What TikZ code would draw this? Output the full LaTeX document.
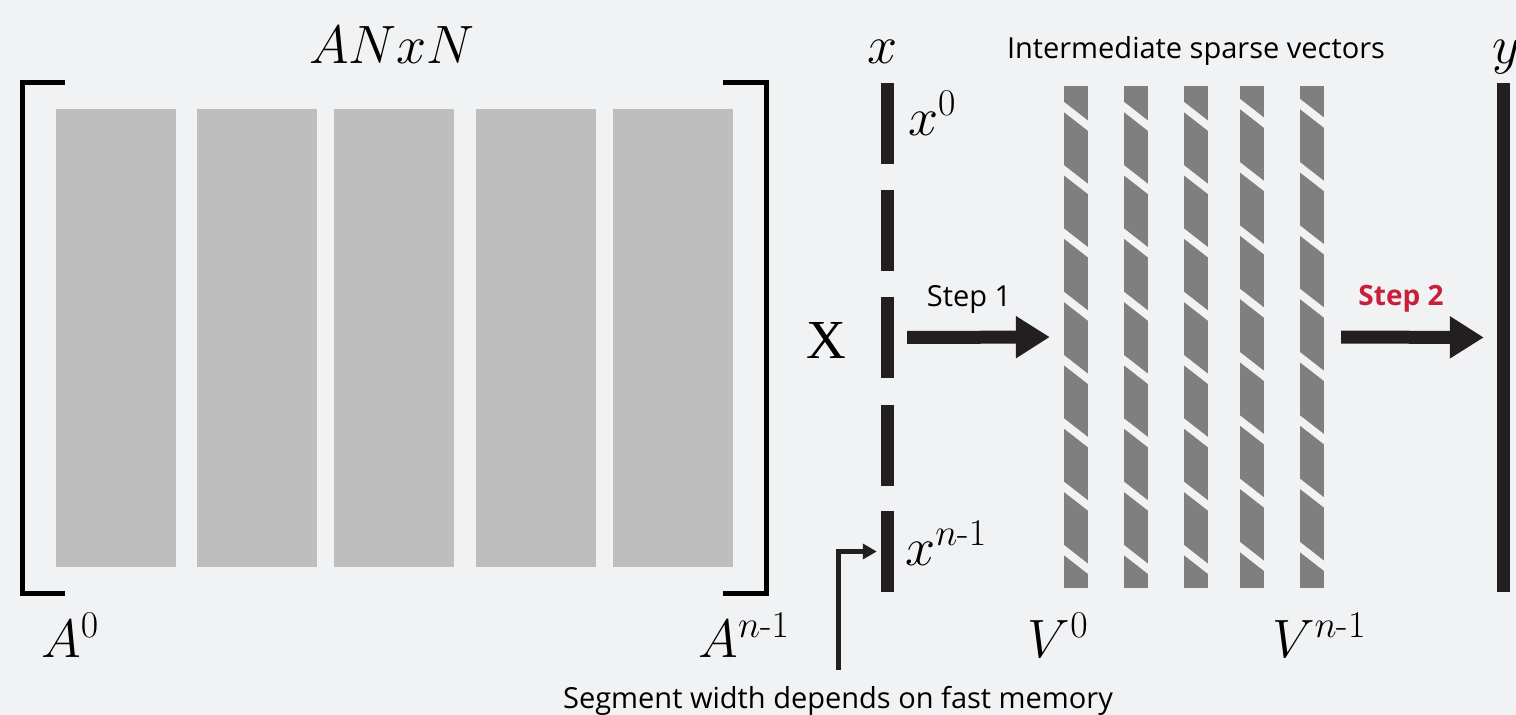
\RequirePackage{fix-cm}
\documentclass[tikz,border=0pt]{standalone}
\usepackage{amsmath}
\usepackage{fontspec}
\setsansfont{Open Sans}
\newfontfamily\uprightserif{Liberation Serif}
\usetikzlibrary{arrows.meta}
\definecolor{bgc}{HTML}{F1F2F4}
\definecolor{blockgray}{HTML}{BEBEBE}
\definecolor{hatchgray}{HTML}{7F7F7F}
\definecolor{ink}{HTML}{231F20}
\definecolor{stepred}{HTML}{C8203A}
\begin{document}
\begin{tikzpicture}[x=1pt,y=-1pt,
  block/.style={fill=blockgray, inner sep=0, minimum width=120pt, minimum height=458pt},
  seg/.style={fill=ink, inner sep=0, minimum width=13pt, minimum height=81pt},
  hvec/.style={fill=hatchgray, inner sep=0, minimum width=24pt, minimum height=502pt},
  bracket/.style={line width=5pt, black},
  mathtext/.style={inner sep=0, font=\fontsize{54}{60}\selectfont, anchor=base},
  sanstext/.style={inner sep=0, font=\sffamily\fontsize{29}{33}\selectfont, anchor=base},
  blockarrow/.style={ink, line width=13pt, -{Triangle[length=34pt,width=40pt]}},
  thinarrow/.style={ink, line width=5pt, -{Triangle[length=14pt,width=15pt]}}
]
\useasboundingbox[fill=bgc] (0,0) rectangle (1516,715);

% matrix A split into column blocks
\node[block] (a0) at (116,338) {};
\node[block] (a1) at (257,338) {};
\node[block] (a2) at (394,338) {};
\node[block] (a3) at (536,338) {};
\node[block] (a4) at (673,338) {};
\draw[bracket] (65,82) -| (22,593) -- (65,593);
\draw[bracket] (723,82) -| (766,593) -- (723,593);

% vector x in segments
\node[seg] (xs1) at (887.5,123.5) {};
\node[seg] (xs2) at (887.5,230) {};
\node[seg] (xs3) at (887.5,337.5) {};
\node[seg] (xs4) at (887.5,445.5) {};
\node[seg] (xs5) at (887.5,551.5) {};

% intermediate sparse vectors with diagonal gaps
\foreach \i/\cx/\off in {0/1076/0, 1/1136/0, 2/1196/0, 3/1252/-3, 4/1312/-3} {
  \node[hvec] (v\i) at (\cx,337) {};
  \begin{scope}
    \clip (v\i.north west) rectangle (v\i.south east);
    \foreach \k in {0,...,7} {
      \pgfmathsetmacro\yc{107+\off+63.3*\k}
      \draw[bgc, line width=8pt] (\cx-22,\yc-7.8) -- (\cx+22,\yc+26.5);
    }
  \end{scope}
}

% result vector y
\node[fill=ink, inner sep=0, minimum width=13pt, minimum height=509pt] (yv) at (1503.5,337.5) {};

% labels
\node[mathtext] (title) at (392,63) {$ANxN$};
\node[mathtext] (la0) at (70,657) {$A^0$};
\node[mathtext] (lan) at (744,657) {$A^{n\text{-}1}$};
\node[mathtext] (lx) at (883,63) {$x$};
\node[mathtext] (lx0) at (932,135) {$x^0$};
\node[mathtext] (lxn) at (946,565) {$x^{n\text{-}1}$};
\node[mathtext, font=\uprightserif\fontsize{55}{60}\selectfont] (bigx) at (826,358) {X};
\node[mathtext] (lv0) at (1058,657) {$V^0$};
\node[mathtext] (lvn) at (1319,657) {$V^{n\text{-}1}$};
\node[mathtext] (ly) at (1506,63) {$y$};

\node[sanstext] (inter) at (1196,58) {Intermediate sparse vectors};
\node[sanstext] (st1) at (969,306) {Step 1};
\node[sanstext, font=\sffamily\bfseries\fontsize{28}{32}\selectfont, text=stepred] (st2) at (1401,305) {Step 2};
\node[sanstext] (mem) at (838,708) {Segment width depends on fast memory};

% connectors
\draw[blockarrow, shorten <=13pt, shorten >=14pt] (xs3.east) -- (v0.west);
\draw[blockarrow, shorten <=17pt, shorten >=13pt] (v4.east) -- (yv.west);
\coordinate (memtop) at (838,670);
\draw[thinarrow, shorten >=4pt] (memtop) |- (xs5.west);
\end{tikzpicture}
\end{document}
